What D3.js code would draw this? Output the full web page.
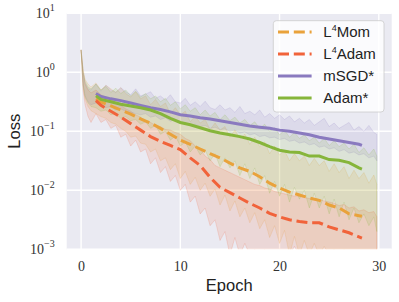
<!DOCTYPE html>
<html>
<head>
<meta charset="utf-8">
<script src="https://cdn.jsdelivr.net/npm/d3@7"></script>
<style>
  body { margin: 0; background: #fff; }
  svg { display: block; }
</style>
</head>
<body>
<svg width="399" height="302"></svg>
<script>
var WIDTH = 399;
var HEIGHT = 302;
var MARGIN = { top: 13.3, right: 7.3, bottom: 52.7, left: 66.7 };
var TICK_FONT = 'Liberation Serif, DejaVu Serif, serif';
var LABEL_FONT = 'Liberation Sans, Arial, sans-serif';

// series, in legend order
var names = ['L4Mom', 'L4Adam', 'mSGD*', 'Adam*'];
var colors = ['#e9a23b', '#f1633a', '#8a7abf', '#86b53a'];
var dashed = [true, true, false, false];

// smoothed mean curves (log10 of loss)
var meanEpochs = [1.5, 2, 3, 4, 5, 6, 7, 8, 9, 10, 11, 12, 13, 14, 15, 16, 17, 18, 19, 20,
  21, 22, 23, 24, 25, 26, 27, 28, 28.3];
var meanL4Mom = [-0.45, -0.50, -0.57, -0.64, -0.71, -0.79, -0.86, -0.95, -1.05, -1.15, -1.22, -1.30,
  -1.38, -1.45, -1.54, -1.62, -1.68, -1.77, -1.88, -1.96, -2.03, -2.08, -2.13, -2.17, -2.25, -2.30,
  -2.40, -2.43, -2.44];
var meanL4Adam = [-0.48, -0.56, -0.66, -0.76, -0.87, -0.98, -1.09, -1.17, -1.24, -1.31, -1.45, -1.58,
  -1.78, -1.95, -2.04, -2.13, -2.22, -2.30, -2.39, -2.45, -2.50, -2.53, -2.55, -2.55, -2.62, -2.67,
  -2.72, -2.79, -2.81];
var meanMSGD = [-0.36, -0.41, -0.45, -0.48, -0.52, -0.56, -0.60, -0.63, -0.67, -0.72, -0.74, -0.77,
  -0.79, -0.82, -0.85, -0.88, -0.91, -0.93, -0.95, -0.98, -1.00, -1.03, -1.06, -1.10, -1.13, -1.16,
  -1.19, -1.22, -1.24];
var meanAdam = [-0.40, -0.46, -0.50, -0.54, -0.57, -0.60, -0.64, -0.70, -0.78, -0.85, -0.89, -0.94,
  -0.99, -1.03, -1.06, -1.09, -1.13, -1.19, -1.26, -1.32, -1.35, -1.36, -1.42, -1.42, -1.48, -1.49,
  -1.53, -1.62, -1.64];

// min / max spread across runs (log10 of loss)
var bandEpochs = [0, 0.2, 0.4, 0.7, 1, 1.5, 2, 2.5, 3, 3.5, 4, 4.5, 5, 5.5, 6, 6.5, 7, 7.5, 8, 8.5,
  9, 9.5, 10, 10.5, 11, 11.5, 12, 12.5, 13, 13.5, 14, 14.5, 15, 15.5, 16, 16.5, 17, 17.5, 18, 18.5,
  19, 19.5, 20, 20.5, 21, 21.5, 22, 22.5, 23, 23.5, 24, 24.5, 25, 25.5, 26, 26.5, 27, 27.5, 28, 28.5,
  29, 29.5, 29.8];
var hiL4Mom = [0.38, 0.05, -0.12, -0.2, -0.25, -0.18, -0.3, -0.22, -0.28, -0.34, -0.26, -0.36, -0.42,
  -0.33, -0.45, -0.4, -0.55, -0.46, -0.58, -0.52, -0.7, -0.6, -0.72, -0.66, -0.84, -0.74, -0.86, -0.8,
  -0.97, -0.86, -0.98, -0.92, -1.1, -0.98, -1.12, -1.05, -1.22, -1.1, -1.26, -1.18, -1.38, -1.25, -1.4,
  -1.32, -1.5, -1.38, -1.5, -1.42, -1.58, -1.46, -1.58, -1.5, -1.68, -1.55, -1.7, -1.6, -1.8, -1.66,
  -1.8, -1.7, -1.88, -1.74, -1.9];
var loL4Mom = [0.38, -0.25, -0.45, -0.58, -0.65, -0.7, -0.75, -0.78, -0.85, -0.88, -0.95, -1.0, -1.1,
  -1.08, -1.2, -1.22, -1.35, -1.3, -1.5, -1.45, -1.65, -1.55, -1.8, -1.68, -1.9, -1.78, -2.0, -1.88,
  -2.1, -1.98, -2.25, -2.08, -2.35, -2.18, -2.45, -2.3, -2.55, -2.38, -2.65, -2.5, -2.8, -2.6, -2.9,
  -2.68, -3.1, -2.78, -3.1, -2.85, -3.1, -2.9, -3.1, -2.95, -3.1, -3.0, -3.1, -3.0, -3.1, -3.05, -3.1,
  -3.1, -3.1, -3.1, -3.1];
var hiL4Adam = [0.38, 0.0, -0.2, -0.3, -0.35, -0.3, -0.38, -0.42, -0.46, -0.52, -0.56, -0.62, -0.66,
  -0.72, -0.76, -0.82, -0.85, -0.9, -0.92, -0.97, -0.98, -1.02, -1.05, -1.12, -1.16, -1.25, -1.3, -1.42,
  -1.48, -1.58, -1.62, -1.66, -1.7, -1.74, -1.78, -1.82, -1.86, -1.9, -1.92, -1.96, -1.98, -2.02, -2.04,
  -2.06, -2.08, -2.1, -2.1, -2.12, -2.14, -2.14, -2.16, -2.18, -2.2, -2.22, -2.26, -2.24, -2.3, -2.28,
  -2.35, -2.33, -2.38, -2.36, -2.45];
var loL4Adam = [0.38, -0.3, -0.55, -0.75, -0.85, -0.7, -0.85, -0.8, -0.95, -0.9, -1.1, -1.05, -1.25,
  -1.15, -1.35, -1.3, -1.55, -1.45, -1.7, -1.6, -1.85, -1.75, -2.0, -1.9, -2.2, -2.1, -2.4, -2.3, -2.6,
  -2.5, -2.85, -2.7, -3.1, -2.8, -3.1, -2.9, -3.1, -3.0, -3.1, -3.0, -3.1, -3.1, -3.1, -3.1, -3.1,
  -2.95, -3.1, -3.1, -3.1, -3.0, -3.1, -3.1, -3.1, -3.1, -3.1, -3.1, -3.1, -3.1, -3.1, -3.1, -3.1,
  -3.1, -3.1];
var hiMSGD = [0.38, 0.0, -0.18, -0.28, -0.3, -0.2, -0.32, -0.22, -0.3, -0.34, -0.26, -0.33, -0.38,
  -0.28, -0.4, -0.37, -0.33, -0.44, -0.4, -0.47, -0.38, -0.5, -0.52, -0.44, -0.56, -0.5, -0.58, -0.49,
  -0.6, -0.63, -0.55, -0.64, -0.6, -0.68, -0.58, -0.7, -0.66, -0.72, -0.64, -0.76, -0.7, -0.78, -0.72,
  -0.8, -0.74, -0.84, -0.78, -0.86, -0.8, -0.9, -0.84, -0.78, -0.92, -0.86, -0.95, -0.9, -0.85, -0.98,
  -0.92, -1.0, -0.9, -1.02, -1.05];
var loMSGD = [0.38, -0.2, -0.4, -0.5, -0.55, -0.52, -0.56, -0.6, -0.58, -0.64, -0.62, -0.66, -0.68,
  -0.7, -0.72, -0.7, -0.76, -0.74, -0.8, -0.77, -0.83, -0.8, -0.87, -0.85, -0.9, -0.88, -0.92, -0.9,
  -0.95, -0.93, -0.97, -0.96, -1.0, -0.98, -1.03, -1.01, -1.06, -1.04, -1.09, -1.07, -1.11, -1.1, -1.14,
  -1.12, -1.17, -1.15, -1.2, -1.18, -1.23, -1.21, -1.27, -1.25, -1.3, -1.28, -1.34, -1.31, -1.37,
  -1.35, -1.4, -1.38, -1.45, -1.42, -1.5];
var hiAdam = [0.38, 0.02, -0.15, -0.25, -0.28, -0.2, -0.3, -0.24, -0.34, -0.27, -0.36, -0.3, -0.4,
  -0.32, -0.42, -0.36, -0.45, -0.4, -0.5, -0.44, -0.56, -0.5, -0.62, -0.55, -0.66, -0.6, -0.72, -0.64,
  -0.74, -0.68, -0.8, -0.72, -0.82, -0.76, -0.86, -0.8, -0.9, -0.84, -0.95, -0.88, -1.0, -0.94, -1.06,
  -0.98, -1.1, -1.02, -1.12, -1.06, -1.16, -1.1, -1.2, -1.12, -1.24, -1.16, -1.26, -1.2, -1.3, -1.22,
  -1.36, -1.28, -1.4, -1.3, -1.42];
var loAdam = [0.38, -0.22, -0.42, -0.52, -0.58, -0.6, -0.66, -0.64, -0.72, -0.7, -0.78, -0.75, -0.82,
  -0.8, -0.88, -0.84, -0.95, -0.9, -1.05, -1.0, -1.15, -1.08, -1.25, -1.18, -1.35, -1.25, -1.4, -1.32,
  -1.5, -1.38, -1.6, -1.45, -1.62, -1.5, -1.75, -1.55, -1.8, -1.62, -1.9, -1.75, -2.05, -1.85, -2.1,
  -1.9, -2.2, -1.95, -2.15, -2.0, -2.3, -2.05, -2.3, -2.1, -2.4, -2.15, -2.45, -2.2, -2.5, -2.3, -2.55,
  -2.4, -2.6, -2.45, -2.7];

var means = [meanL4Mom, meanL4Adam, meanMSGD, meanAdam];
var his = [hiL4Mom, hiL4Adam, hiMSGD, hiAdam];
var los = [loL4Mom, loL4Adam, loMSGD, loAdam];

var xTicks = [0, 10, 20, 30];
var yTicks = [1e-3, 1e-2, 1e-1, 1e0, 1e1];
var yExponents = ['\u22123', '\u22122', '\u22121', '0', '1'];

var svg = d3.select('svg');
var x = d3.scaleLinear().domain([-1.45, 31.3]).range([MARGIN.left, WIDTH - MARGIN.right]);
var y = d3.scaleLog().domain([1e-3, 10]).range([HEIGHT - MARGIN.bottom, MARGIN.top]);

// background + grid
svg.append('rect')
  .attr('x', MARGIN.left).attr('y', MARGIN.top)
  .attr('width', WIDTH - MARGIN.left - MARGIN.right)
  .attr('height', HEIGHT - MARGIN.top - MARGIN.bottom)
  .attr('fill', '#eaeaf2');

svg.append('clipPath').attr('id', 'plot-clip')
  .append('rect')
  .attr('x', MARGIN.left).attr('y', MARGIN.top)
  .attr('width', WIDTH - MARGIN.left - MARGIN.right)
  .attr('height', HEIGHT - MARGIN.top - MARGIN.bottom);

svg.append('g')
  .selectAll('line').data(xTicks).join('line')
  .attr('x1', function (d) { return x(d); }).attr('x2', function (d) { return x(d); })
  .attr('y1', MARGIN.top).attr('y2', HEIGHT - MARGIN.bottom)
  .attr('stroke', '#fff').attr('stroke-width', 1.4);
svg.append('g')
  .selectAll('line').data(yTicks).join('line')
  .attr('y1', function (d) { return y(d); }).attr('y2', function (d) { return y(d); })
  .attr('x1', MARGIN.left).attr('x2', WIDTH - MARGIN.right)
  .attr('stroke', '#fff').attr('stroke-width', 1.4);

var plot = svg.append('g').attr('clip-path', 'url(#plot-clip)');

// shaded spread
var area = d3.area()
  .x(function (d, i) { return x(bandEpochs[i]); })
  .y0(function (d) { return y(Math.pow(10, d[0])); })
  .y1(function (d) { return y(Math.pow(10, d[1])); });

names.forEach(function (name, k) {
  var rows = los[k].map(function (lo, i) { return [lo, his[k][i]]; });
  plot.append('path')
    .attr('d', area(rows))
    .attr('fill', colors[k])
    .attr('fill-opacity', 0.14)
    .attr('stroke', colors[k])
    .attr('stroke-opacity', 0.35)
    .attr('stroke-width', 0.5);
});

// mean lines
var line = d3.line()
  .x(function (d, i) { return x(meanEpochs[i]); })
  .y(function (d) { return y(Math.pow(10, d)); });

names.forEach(function (name, k) {
  plot.append('path')
    .attr('d', line(means[k]))
    .attr('fill', 'none')
    .attr('stroke', colors[k])
    .attr('stroke-width', 3)
    .attr('stroke-dasharray', dashed[k] ? '11,4.8' : null);
});

// axes
var xAxis = svg.append('g')
  .attr('transform', 'translate(0,' + (HEIGHT - MARGIN.bottom) + ')')
  .call(d3.axisBottom(x).tickValues(xTicks).tickSize(0).tickPadding(12));
xAxis.select('.domain').remove();
xAxis.selectAll('text')
  .style('font-family', TICK_FONT).style('font-size', '14px').attr('fill', '#333');

var yAxis = svg.append('g')
  .attr('transform', 'translate(' + MARGIN.left + ',0)')
  .call(d3.axisLeft(y).tickValues(yTicks).tickSize(0).tickPadding(12).tickFormat(function () { return ''; }));
yAxis.select('.domain').remove();
yAxis.selectAll('text')
  .style('font-family', TICK_FONT).style('font-size', '14px').attr('fill', '#333')
  .attr('dy', '0.33em')
  .each(function (d, i) {
    var t = d3.select(this);
    t.append('tspan').text('10');
    t.append('tspan').attr('dy', -7).style('font-size', '10px').text(yExponents[i]);
  });

svg.append('text')
  .attr('x', (MARGIN.left + WIDTH - MARGIN.right) / 2).attr('y', 291)
  .attr('text-anchor', 'middle')
  .style('font-family', LABEL_FONT).style('font-size', '16.5px').attr('fill', '#222')
  .text('Epoch');

svg.append('text')
  .attr('transform', 'translate(20,' + y(Math.sqrt(1e-3 * 10)) + ') rotate(-90)')
  .attr('text-anchor', 'middle')
  .style('font-family', LABEL_FONT).style('font-size', '16.5px').attr('fill', '#222')
  .text('Loss');

// legend
var legend = svg.append('g').attr('transform', 'translate(273.3,20.7)');
legend.append('rect')
  .attr('width', 110.7).attr('height', 91.3).attr('rx', 3)
  .attr('fill', '#fff').attr('fill-opacity', 0.8)
  .attr('stroke', '#cccccc').attr('stroke-width', 0.8);

names.forEach(function (name, k) {
  var cy = 11.3 + k * 22;
  legend.append('line')
    .attr('x1', 4.7).attr('x2', 38.3).attr('y1', cy).attr('y2', cy)
    .attr('stroke', colors[k]).attr('stroke-width', 3)
    .attr('stroke-dasharray', dashed[k] ? '11,4.8' : null);
  var t = legend.append('text')
    .attr('x', 50).attr('y', cy + 5.4)
    .style('font-family', LABEL_FONT).style('font-size', '15px').attr('fill', '#222');
  if (name.indexOf('L4') === 0) {
    t.append('tspan').text('L');
    t.append('tspan').attr('dy', -6).style('font-size', '9px').text('4');
    t.append('tspan').attr('dy', 6).text(name.slice(2));
  } else {
    t.text(name);
  }
});
</script>
</body>
</html>
